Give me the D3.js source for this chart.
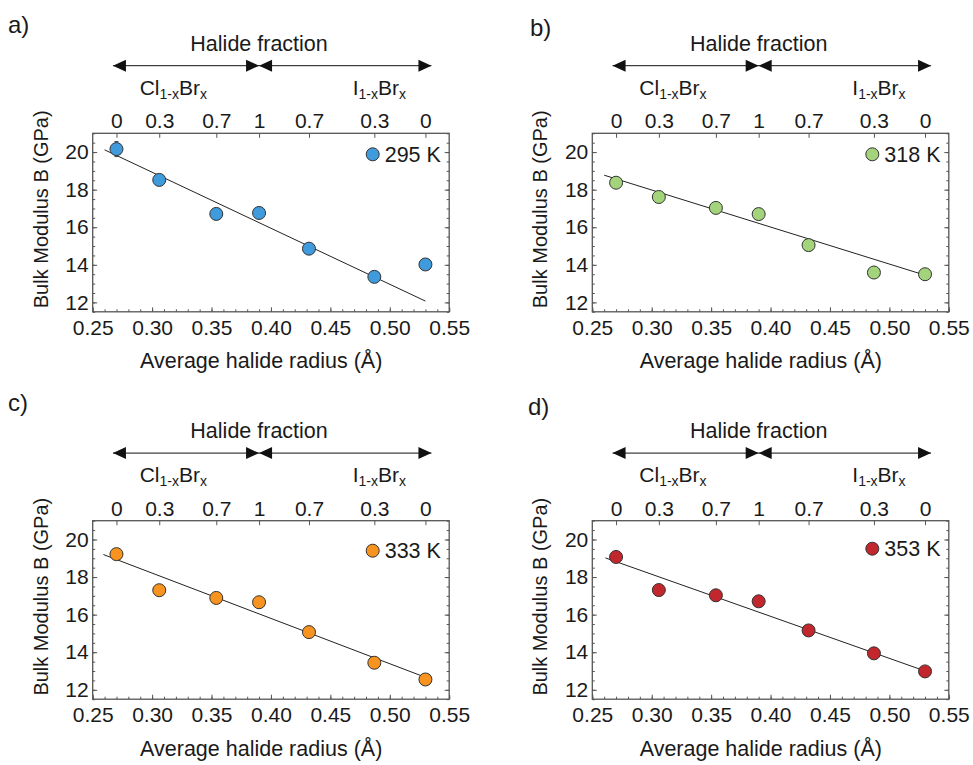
<!DOCTYPE html>
<html>
<head>
<meta charset="utf-8">
<script src="https://cdnjs.cloudflare.com/ajax/libs/d3/7.8.5/d3.min.js"></script>
<style>
  body { margin: 0; background: #fff; }
  svg { font-family: "Liberation Sans", Arial, sans-serif; }
  .tick line { stroke: #555; }
</style>
</head>
<body>
<div id="chart"></div>
<script>
// average halide radius (Å) of the seven compositions
var radius = [0.270, 0.306, 0.354, 0.390, 0.432, 0.487, 0.530];
var fractionLabels = ["0", "0.3", "0.7", "1", "0.7", "0.3", "0"];
var xTicks = [0.25, 0.30, 0.35, 0.40, 0.45, 0.50, 0.55];
var yTicks = [12, 14, 16, 18, 20];

var panelNames = ["a)", "b)", "c)", "d)"];
var temps = ["295 K", "318 K", "333 K", "353 K"];
var colors = ["#3f9bdb", "#a3d47b", "#f7931e", "#c1272d"];

// bulk modulus B (GPa)
var bulk295 = [20.16, 18.52, 16.71, 16.76, 14.86, 13.36, 14.02];
var bulk318 = [18.37, 17.61, 17.03, 16.70, 15.05, 13.59, 13.50];
var bulk333 = [19.22, 17.30, 16.89, 16.66, 15.07, 13.44, 12.55];
var bulk353 = [19.07, 17.31, 17.03, 16.71, 15.16, 13.94, 12.98];

var err295 = [0.40, 0.20, 0.20, 0.20, 0.20, 0.20, 0.20];
var err318 = [0.20, 0.20, 0.20, 0.20, 0.20, 0.20, 0.20];
var err333 = [0.20, 0.20, 0.20, 0.20, 0.20, 0.20, 0.20];
var err353 = [0.20, 0.20, 0.20, 0.20, 0.20, 0.20, 0.20];

// linear fits, [start, end] as [radius, B]
var fit295 = [[0.260, 20.12], [0.530, 12.07]];
var fit318 = [[0.260, 18.77], [0.531, 13.43]];
var fit333 = [[0.259, 19.20], [0.531, 12.64]];
var fit353 = [[0.261, 19.02], [0.531, 12.98]];

var bulks = [bulk295, bulk318, bulk333, bulk353];
var errs = [err295, err318, err333, err353];
var fits = [fit295, fit318, fit333, fit353];

// layout
var W = 356.5, H = 178.5;
var origins = [[92.7, 133.3], [592.3, 133.3], [92.7, 520.7], [592.3, 520.7]];
var legendY = [21, 21, 30, 28];
var labelPos = [[8, 33], [530, 36], [8, 411], [528, 415]];

var svg = d3.select("#chart").append("svg")
    .attr("width", 973)
    .attr("height", 765);

var x = d3.scaleLinear().domain([0.25, 0.55]).range([0, W]);
var y = d3.scaleLinear().domain([11.5, 21]).range([H, 0]);

var xMinor = d3.range(0.25, 0.5501, 0.01);
var yMinor = d3.range(11.5, 21.01, 0.5);

panelNames.forEach(function(name, i) {
    svg.append("text")
        .attr("x", labelPos[i][0])
        .attr("y", labelPos[i][1])
        .attr("font-size", 24)
        .attr("fill", "#1a1a1a")
        .text(name);

    var g = svg.append("g")
        .attr("transform", "translate(" + origins[i][0] + "," + origins[i][1] + ")");
    drawPanel(g, i);
});

function drawPanel(g, i) {
    var data = radius.map(function(r, k) {
        return {x: r, y: bulks[i][k], e: errs[i][k]};
    });

    // minor ticks
    g.append("g").attr("transform", "translate(0," + H + ")")
        .call(d3.axisBottom(x).tickValues(xMinor).tickSize(-2.5).tickFormat(""));
    g.append("g")
        .call(d3.axisLeft(y).tickValues(yMinor).tickSize(-2.5).tickFormat(""));
    g.append("g").attr("transform", "translate(" + W + ",0)")
        .call(d3.axisRight(y).tickValues(yMinor).tickSize(-2.5).tickFormat(""));

    // major ticks + labels
    g.append("g").attr("class", "xaxis").attr("transform", "translate(0," + H + ")")
        .call(d3.axisBottom(x).tickValues(xTicks).tickSize(-4.5).tickPadding(8)
            .tickFormat(d3.format(".2f")));
    g.append("g").attr("class", "yaxis")
        .call(d3.axisLeft(y).tickValues(yTicks).tickSize(-4.5).tickPadding(4));
    g.append("g").attr("transform", "translate(" + W + ",0)")
        .call(d3.axisRight(y).tickValues(yTicks).tickSize(-4.5).tickFormat(""));
    g.append("g").attr("class", "topaxis")
        .call(d3.axisTop(x).tickValues(radius).tickSize(-4.5).tickPadding(5)
            .tickFormat(function(d, k) { return fractionLabels[k]; }));

    g.selectAll(".domain").remove();
    g.selectAll(".tick text")
        .attr("font-size", 21)
        .attr("font-family", "Liberation Sans, Arial, sans-serif")
        .attr("fill", "#1a1a1a");

    g.append("rect")
        .attr("width", W)
        .attr("height", H)
        .attr("fill", "none")
        .attr("stroke", "#555")
        .attr("stroke-width", 1.3);

    // axis titles
    g.append("text")
        .attr("x", 168.5)
        .attr("y", 235)
        .attr("text-anchor", "middle")
        .attr("font-size", 21.5)
        .attr("fill", "#1a1a1a")
        .text("Average halide radius (Å)");

    g.append("text")
        .attr("transform", "translate(-45,76) rotate(-90)")
        .attr("text-anchor", "middle")
        .attr("font-size", 20)
        .attr("fill", "#1a1a1a")
        .text("Bulk Modulus B (GPa)");

    // halide fraction header with arrows
    var ay = -67.6;
    var left = x(radius[0]) - 3.5, mid = x(radius[3]), right = x(radius[6]) + 6;
    g.append("line")
        .attr("x1", left).attr("x2", right)
        .attr("y1", ay).attr("y2", ay)
        .attr("stroke", "#111").attr("stroke-width", 1);
    var tri = [
        [left, 1], [mid, -1], [mid, 1], [right, -1]
    ];
    g.selectAll("path.arrowhead").data(tri).enter().append("path")
        .attr("class", "arrowhead")
        .attr("fill", "#111")
        .attr("d", function(t) {
            var tip = t[0], b = t[0] + t[1] * 13;
            return "M" + tip + "," + ay + "L" + b + "," + (ay - 6) + "L" + b + "," + (ay + 6) + "Z";
        });

    g.append("text")
        .attr("x", mid)
        .attr("y", -82.6)
        .attr("text-anchor", "middle")
        .attr("font-size", 21.5)
        .attr("fill", "#1a1a1a")
        .text("Halide fraction");

    var cl = g.append("text").attr("x", 47).attr("y", -38.3)
        .attr("font-size", 21).attr("fill", "#1a1a1a");
    cl.append("tspan").text("Cl");
    cl.append("tspan").attr("font-size", 14).attr("dy", 4).text("1-x");
    cl.append("tspan").attr("dy", -4).text("Br");
    cl.append("tspan").attr("font-size", 14).attr("dy", 4).text("x");

    var io = g.append("text").attr("x", 260).attr("y", -38.3)
        .attr("font-size", 21).attr("fill", "#1a1a1a");
    io.append("tspan").text("I");
    io.append("tspan").attr("font-size", 14).attr("dy", 4).text("1-x");
    io.append("tspan").attr("dy", -4).text("Br");
    io.append("tspan").attr("font-size", 14).attr("dy", 4).text("x");

    // fit line
    g.append("line")
        .attr("x1", x(fits[i][0][0])).attr("y1", y(fits[i][0][1]))
        .attr("x2", x(fits[i][1][0])).attr("y2", y(fits[i][1][1]))
        .attr("stroke", "#222")
        .attr("stroke-width", 1);

    // error bars
    var eb = g.selectAll("g.err").data(data).enter().append("g").attr("class", "err")
        .attr("stroke", "#444").attr("stroke-width", 1);
    eb.append("line")
        .attr("x1", function(d) { return x(d.x); })
        .attr("x2", function(d) { return x(d.x); })
        .attr("y1", function(d) { return y(d.y - d.e); })
        .attr("y2", function(d) { return y(d.y + d.e); });
    eb.append("line")
        .attr("x1", function(d) { return x(d.x) - 2; })
        .attr("x2", function(d) { return x(d.x) + 2; })
        .attr("y1", function(d) { return y(d.y + d.e); })
        .attr("y2", function(d) { return y(d.y + d.e); });
    eb.append("line")
        .attr("x1", function(d) { return x(d.x) - 2; })
        .attr("x2", function(d) { return x(d.x) + 2; })
        .attr("y1", function(d) { return y(d.y - d.e); })
        .attr("y2", function(d) { return y(d.y - d.e); });

    // points
    g.selectAll("circle.pt").data(data).enter().append("circle")
        .attr("class", "pt")
        .attr("cx", function(d) { return x(d.x); })
        .attr("cy", function(d) { return y(d.y); })
        .attr("r", 6.5)
        .attr("fill", colors[i])
        .attr("stroke", "#333")
        .attr("stroke-width", 1);

    // legend
    g.append("circle")
        .attr("cx", 280)
        .attr("cy", legendY[i])
        .attr("r", 6.5)
        .attr("fill", colors[i])
        .attr("stroke", "#333")
        .attr("stroke-width", 1);
    g.append("text")
        .attr("x", 292)
        .attr("y", legendY[i] + 7.5)
        .attr("font-size", 21.5)
        .attr("fill", "#1a1a1a")
        .text(temps[i]);
}
</script>
</body>
</html>
